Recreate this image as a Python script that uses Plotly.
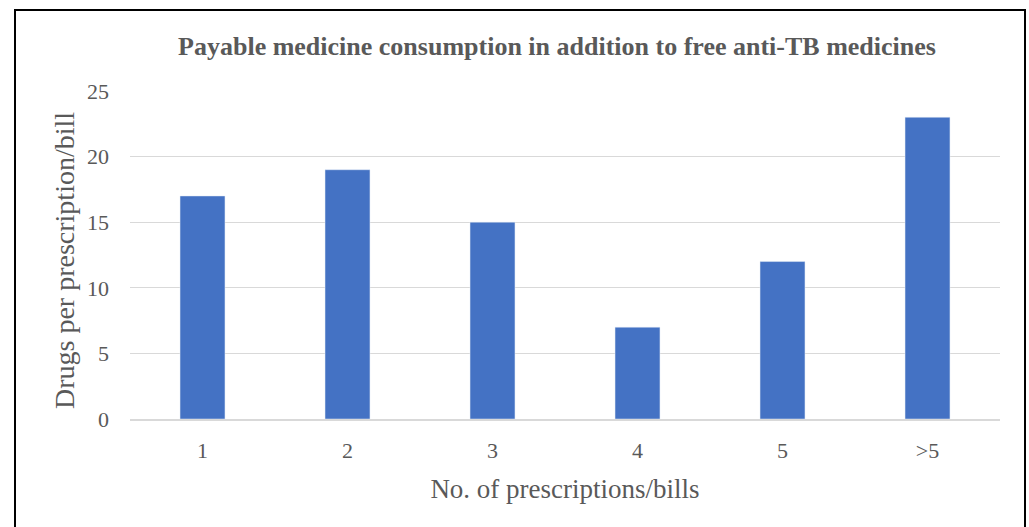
import plotly.graph_objects as go

categories = ["1", "2", "3", "4", "5", ">5"]
values = [17, 19, 15, 7, 12, 23]
y_ticks = [0, 5, 10, 15, 20, 25]

W, H = 1029, 527
L, R, T, B = 130, 29, 91, 108
pw, ph = W - L - R, H - T - B

def px_x(p):
    return (p - L) / pw

def px_y(p):
    return (H - B - p) / ph

font = "Liberation Serif"
gray = "#595959"

fig = go.Figure(go.Bar(x=categories, y=values, marker_color="#4472c4", width=0.31))
fig.update_layout(
    width=W, height=H,
    margin=dict(l=L, r=R, t=T, b=B),
    paper_bgcolor="white", plot_bgcolor="white",
    showlegend=False,
    title=dict(text="<b>Payable medicine consumption in addition to free anti-TB medicines</b>",
               x=557 / W, xanchor="center", y=1 - 46 / H, yanchor="middle",
               font=dict(family=font, size=26, color=gray)),
    xaxis=dict(tickfont=dict(family=font, size=22, color=gray), showline=True, linecolor="#d9d9d9",
               linewidth=1.5, ticks="", ticklabelstandoff=11,
               title=dict(text="No. of prescriptions/bills",
                          font=dict(family=font, size=27, color=gray), standoff=17)),
    yaxis=dict(range=[0, 25], tickvals=y_ticks, tickfont=dict(family=font, size=22, color=gray),
               gridcolor="#d9d9d9", gridwidth=1, zeroline=False, ticks="", ticklen=0,
               ticklabelstandoff=20),
    annotations=[dict(text="Drugs per prescription/bill", xref="paper", yref="paper",
                      x=px_x(64), y=px_y(261), xanchor="center", yanchor="middle",
                      textangle=-90, showarrow=False,
                      font=dict(family=font, size=28, color=gray))],
    shapes=[dict(type="rect", xref="paper", yref="paper",
                 x0=px_x(15), x1=px_x(1025), y0=px_y(530), y1=px_y(10),
                 line=dict(color="black", width=2), layer="above")],
)
fig.write_html("out.html")
